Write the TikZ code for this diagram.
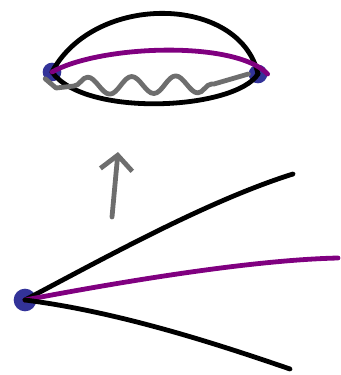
\documentclass[tikz,border=0pt]{standalone}
\usepackage{tikz}
\usetikzlibrary{arrows.meta,decorations.pathmorphing}
\definecolor{dotblue}{HTML}{333399}
\definecolor{wine}{HTML}{800080}
\definecolor{ash}{HTML}{6E6E6E}
\tikzset{
  dot/.style={circle,fill=dotblue,draw=none,inner sep=0pt,minimum size=#1},
  ink/.style={line width=3.6pt,line cap=round,line join=round},
}
\begin{document}
\begin{tikzpicture}[x=0.75pt,y=-0.75pt]
  \useasboundingbox (0,0) rectangle (340,375);
  % upper picture: two ends joined
  \node[dot=14pt] (tl) at (52,72) {};
  \node[dot=14pt] (tr) at (258,74) {};
  \draw[ink,black] (tl.center) .. controls (95,-8) and (240,-5) .. (tr.center);
  \draw[ink,black] (tl.center) .. controls (85,118) and (235,110) .. (tr.center);
  \draw[ink,wine] (tl.center) .. controls (100,45) and (235,40) .. (tr.east);
  \draw[ink,ash] (tl.south west) -- (56,88) -- (74,86)
    decorate[decoration={snake,segment length=33pt,amplitude=6.5pt}] {-- (214,84)} -- (tr.west);
  % arrow
  \coordinate (atail) at (112,217);
  \coordinate (ahead) at (118,152);
  \draw[ink,ash,-{Straight Barb[length=11pt,width=24pt]}] (atail) -- (ahead);
  % lower picture: one end, three open strands
  \node[dot=17pt] (b) at (25,300) {};
  \coordinate (bup) at (293,174);
  \coordinate (bmid) at (338,258);
  \coordinate (blow) at (290,369);
  \draw[ink,black] (b.center) .. controls (110,255) and (210,200) .. (bup);
  \draw[ink,wine] (b.center) .. controls (120,282) and (250,260) .. (bmid);
  \draw[ink,black] (b.center) .. controls (120,312) and (220,345) .. (blow);
\end{tikzpicture}
\end{document}
